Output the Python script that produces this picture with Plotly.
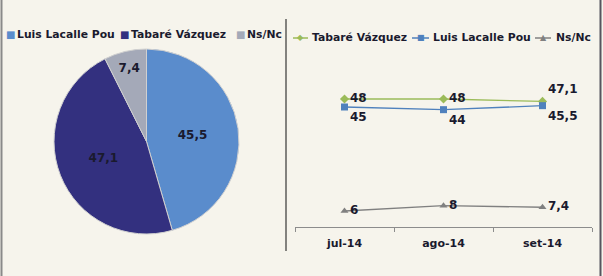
import plotly.graph_objects as go

pie_labels = ["Luis Lacalle Pou", "Tabaré Vázquez", "Ns/Nc"]
pie_values = [45.5, 47.1, 7.4]
pie_text = ["45,5", "47,1", "7,4"]
pie_colors = ["#5a8ccc", "#33307f", "#a4a9b8"]

months = ["jul-14", "ago-14", "set-14"]
tabare = [48, 48, 47.1]
tabare_text = ["48", "48", "47,1"]
luis = [45, 44, 45.5]
luis_text = ["45", "44", "45,5"]
nsnc = [6, 8, 7.4]
nsnc_text = ["6", "8", "7,4"]

line_names = ["Tabaré Vázquez", "Luis Lacalle Pou", "Ns/Nc"]
line_colors = ["#9bbb59", "#4f81bd", "#808080"]
line_glyphs = ["◆", "■", "▲"]

W, H = 603, 276
FONT = "DejaVu Sans"
TXT = "#1a1a2e"

fig = go.Figure()

fig.add_trace(go.Pie(
    labels=pie_labels, values=pie_values, text=pie_text,
    texttemplate="<b>%{text}</b>", textposition="inside",
    insidetextorientation="horizontal",
    textfont=dict(family=FONT, size=12, color=TXT),
    marker=dict(colors=pie_colors, line=dict(color="#d0d0d0", width=1)),
    sort=False, direction="clockwise", rotation=0,
    domain=dict(x=[53/W, 240/W], y=[1-234/H, 1-49/H]),
    showlegend=False, hoverinfo="label+value",
))

series = [(tabare, tabare_text, ["middle right", "middle right", "top right"], "diamond"),
          (luis, luis_text, "bottom right", "square"),
          (nsnc, nsnc_text, "middle right", "triangle-up")]
for (vals, txt, pos, sym), name, col in zip(series, line_names, line_colors):
    fig.add_trace(go.Scatter(
        x=months, y=vals, name=name, mode="lines+markers+text",
        text=txt, textposition=pos, texttemplate="<b>%{text}</b>",
        line=dict(color=col, width=1.3),
        marker=dict(symbol=sym, size=7, color=col),
        textfont=dict(family=FONT, size=12, color=TXT),
        showlegend=False, cliponaxis=False,
    ))

annotations = []
shapes = []

# pie legend (left)
pie_leg_sq = [10, 124, 240]
pie_leg_tx = [15, 129, 245]
for lab, col, sx, tx in zip(pie_labels, pie_colors, pie_leg_sq, pie_leg_tx):
    annotations.append(dict(x=sx/W, y=1-34/H, xref="paper", yref="paper",
                            text="■", showarrow=False, xanchor="center", yanchor="middle",
                            font=dict(family=FONT, size=10, color=col)))
    annotations.append(dict(x=tx/W, y=1-34/H, xref="paper", yref="paper",
                            text="<b>" + lab + "</b>", showarrow=False,
                            xanchor="left", yanchor="middle",
                            font=dict(family=FONT, size=10.8, color=TXT)))

# line legend (right)
line_leg_seg = [(293, 308), (412, 429), (535, 551)]
line_leg_tx = [310, 431, 554]
for name, col, g, (a, b), tx in zip(line_names, line_colors, line_glyphs, line_leg_seg, line_leg_tx):
    shapes.append(dict(type="line", xref="paper", yref="paper", x0=a/W, x1=b/W,
                       y0=1-38/H, y1=1-38/H, line=dict(color=col, width=1.5)))
    annotations.append(dict(x=(a+b)/2/W, y=1-38/H, xref="paper", yref="paper",
                            text=g, showarrow=False, xanchor="center", yanchor="middle",
                            font=dict(family=FONT, size=8, color=col)))
    annotations.append(dict(x=tx/W, y=1-38/H, xref="paper", yref="paper",
                            text="<b>" + name + "</b>", showarrow=False,
                            xanchor="left", yanchor="middle",
                            font=dict(family=FONT, size=10.8, color=TXT)))

shapes += [
    dict(type="line", xref="paper", yref="paper", x0=286/W, x1=286/W,
         y0=1-19/H, y1=1-251/H, line=dict(color="#111111", width=1)),
    dict(type="line", xref="paper", yref="paper", x0=1.5/W, x1=1.5/W,
         y0=0, y1=1, line=dict(color="#8a8a8a", width=2)),
    dict(type="line", xref="paper", yref="paper", x0=600.5/W, x1=600.5/W,
         y0=0, y1=1, line=dict(color="#55555f", width=2)),
]

fig.update_layout(
    width=W, height=H,
    margin=dict(l=0, r=0, t=0, b=0, autoexpand=False),
    paper_bgcolor="#f6f4ec", plot_bgcolor="rgba(0,0,0,0)",
    font=dict(family=FONT, color=TXT),
    showlegend=False,
    xaxis=dict(domain=[295/W, 592/W], type="category", range=[-0.5, 2.5],
               showline=True, linecolor="#8c8c8c", linewidth=1,
               tickson="boundaries", ticks="outside", ticklen=4,
               tickcolor="#8c8c8c", showgrid=False, zeroline=False,
               tickfont=dict(family=FONT, size=11, color=TXT, weight="bold"),
               ticklabelstandoff=6, fixedrange=True),
    yaxis=dict(domain=[1-227/H, 1-67/H], range=[0, 60], visible=False,
               showgrid=False, fixedrange=True),
    annotations=annotations,
    shapes=shapes,
)

fig.write_html("out.html")
